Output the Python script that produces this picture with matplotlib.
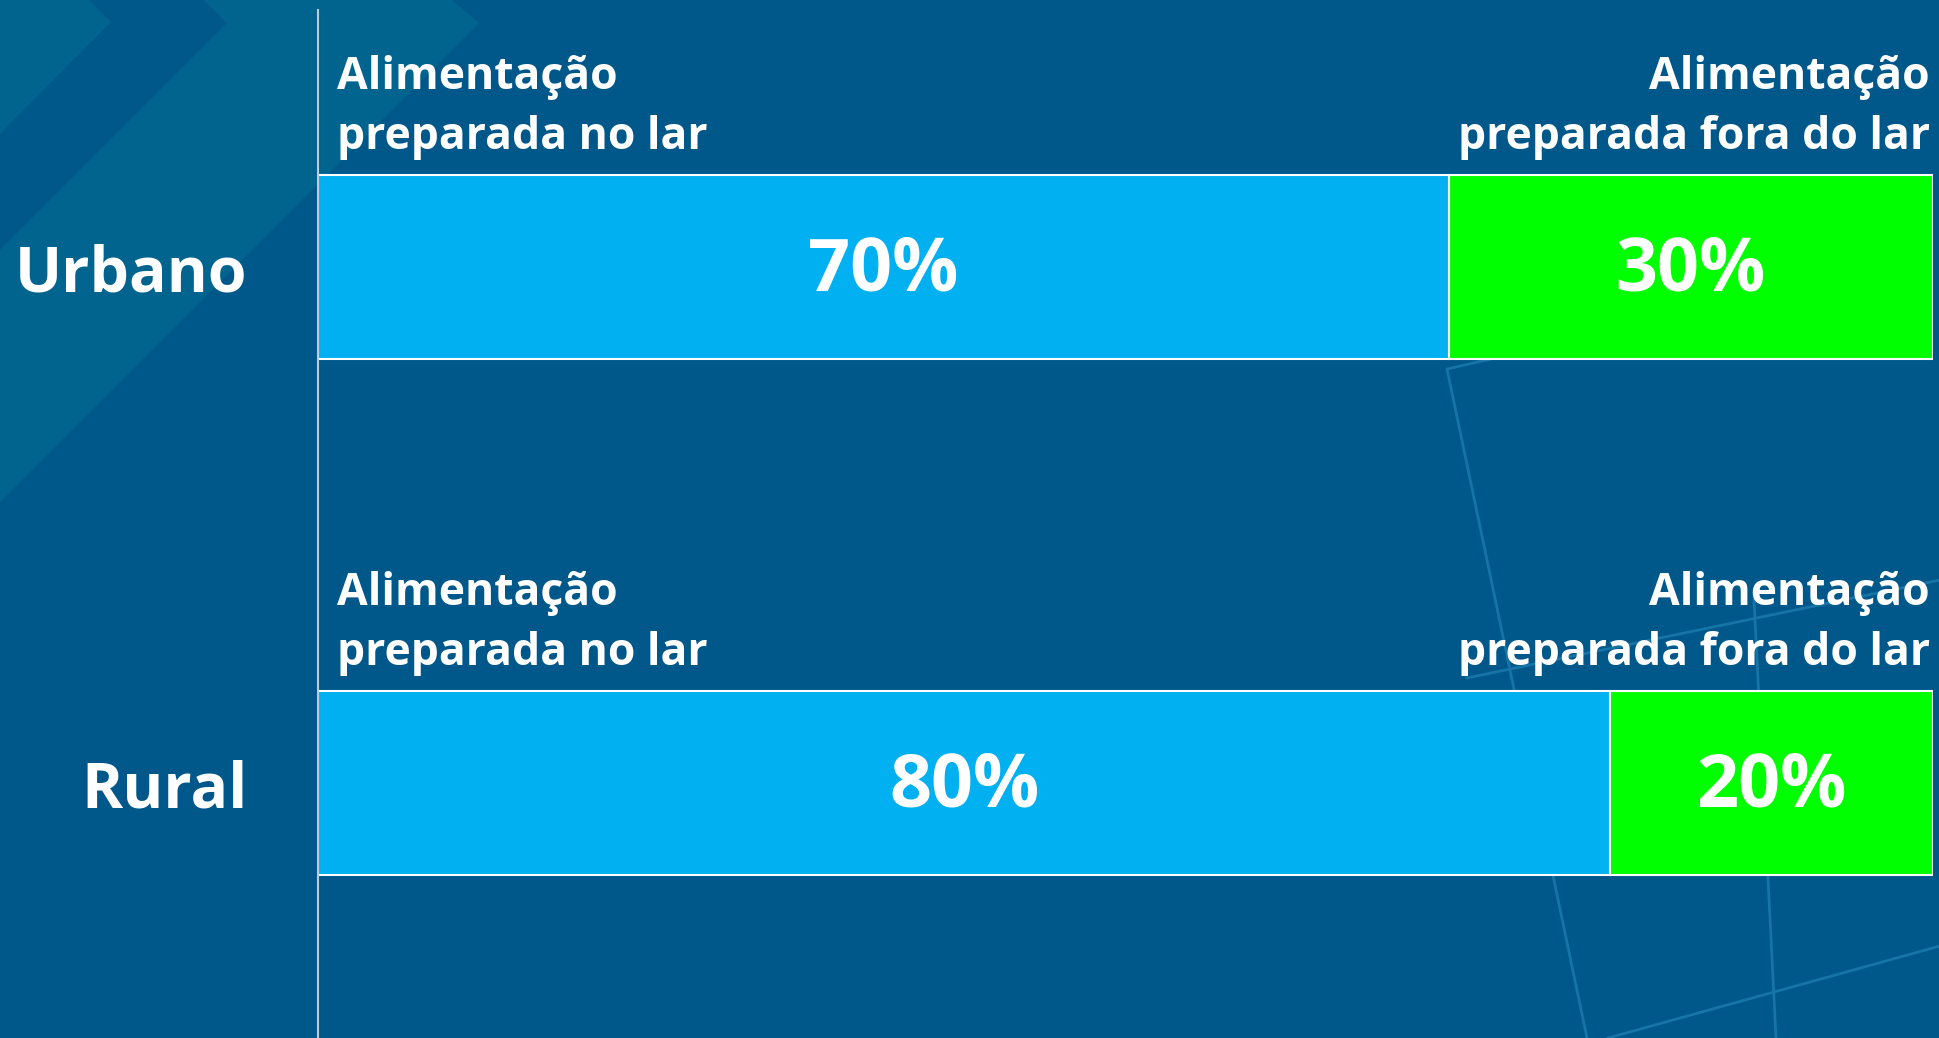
import matplotlib.pyplot as plt
from matplotlib.patches import Polygon

plt.rcParams['font.family'] = ['Open Sans', 'DejaVu Sans']

# data
areas = ["Urbano", "Rural"]
no_lar = [70, 80]
fora_do_lar = [30, 20]
label_no_lar = "Alimentação\npreparada no lar"
label_fora = "Alimentação\npreparada fora do lar"

bg_color = "#00578a"
light_band = "#00648f"
blue = "#00b0f0"
green = "#00ff00"

W, H = 1940, 1038
fig = plt.figure(figsize=(W / 100, H / 100), dpi=100)
fig.patch.set_facecolor(bg_color)

# background decoration, in pixel coordinates
bg = fig.add_axes([0, 0, 1, 1], zorder=0)
bg.set_xlim(0, W)
bg.set_ylim(H, 0)
bg.axis("off")
bg.add_patch(Polygon([(0, 0), (89, 0), (111, 22), (0, 134)], closed=True,
                     color=light_band, lw=0))
bg.add_patch(Polygon([(204, 0), (452, 0), (479, 23), (0, 502), (0, 250), (227, 23)],
                     closed=True, color=light_band, lw=0))
deco_lines = [
    [(1491, 359), (1447, 369), (1587, 1038)],
    [(1754, 600), (1776, 1038)],
    [(1467, 678), (1940, 580)],
    [(1608, 1038), (1940, 946)],
]
for pts in deco_lines:
    xs, ys = zip(*pts)
    bg.plot(xs, ys, color="#1674a6", lw=2)

# main chart
ax = fig.add_axes([318 / W, 0, 1615 / W, 1028 / H], zorder=1)
ax.patch.set_alpha(0)
ypos = list(range(len(areas)))
bh = 0.355
ax.barh(ypos, no_lar, height=bh, color=blue, edgecolor="white", linewidth=1.5)
ax.barh(ypos, fora_do_lar, left=no_lar, height=bh, color=green,
        edgecolor="white", linewidth=1.5)
ax.set_xlim(0, 100)
ax.set_ylim(1.494, -0.498)

for y, a, b in zip(ypos, no_lar, fora_do_lar):
    ax.text(a / 2, y + 0.008, f"{a}%", ha="center", va="center", color="white",
            fontsize=53, fontweight="bold")
    ax.text(a + b / 2, y + 0.008, f"{b}%", ha="center", va="center", color="white",
            fontsize=53, fontweight="bold")
    top = y - bh / 2 - 0.03
    ax.text(1.2, top, label_no_lar, ha="left", va="bottom", color="white",
            fontsize=32, fontweight="bold", linespacing=1.45)
    ax.text(99.8, top, label_fora, ha="right", va="bottom", color="white",
            fontsize=32, fontweight="bold", linespacing=1.45, multialignment="right")

ax.set_yticks(ypos)
ax.set_yticklabels(areas, fontsize=45, fontweight="bold", color="white")
ax.tick_params(axis="y", length=0, pad=51)
ax.set_xticks([])
for s in ["top", "right", "bottom"]:
    ax.spines[s].set_visible(False)
ax.spines["left"].set_color("#c8c8c8")
ax.spines["left"].set_linewidth(1.5)

fig.savefig("out.png", dpi=100, facecolor=bg_color)
